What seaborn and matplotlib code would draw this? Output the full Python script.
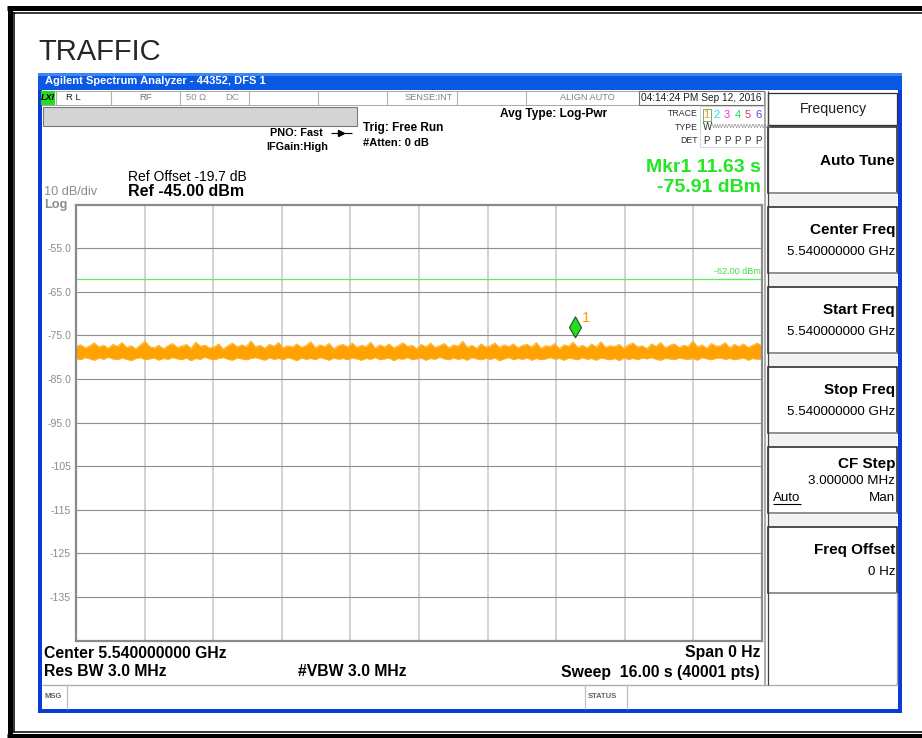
import numpy as np
import matplotlib.pyplot as plt
import seaborn as sns
from matplotlib.patches import Rectangle
from matplotlib.path import Path

sns.set_style("white")
plt.rcParams['font.family'] = ['Liberation Sans', 'DejaVu Sans']

########################## Data ##########################

ref_level = -45.0
bottom_level = -145.0
sweep_s = 16.0
display_line = -62.0
mkr_time = 11.63
mkr_level = -75.91

y_ticks = [-55, -65, -75, -85, -95, -105, -115, -125, -135]
y_labels = ['-55.0', '-65.0', '-75.0', '-85.0', '-95.0', '-105', '-115', '-125', '-135']

# top edge of the noise band (dBm)
trace_upper = [
    -77.6, -77.2, -77.9, -77.4, -76.8, -77.7, -77.3, -78.0, -77.1, -77.5,
    -76.7, -77.8, -77.4, -78.1, -77.2, -76.4, -77.6, -77.9, -77.3, -78.1,
    -77.4, -76.9, -77.8, -77.5, -77.1, -78.0, -76.6, -77.5, -77.3, -77.9,
    -77.7, -77.0, -78.2, -77.4, -76.8, -77.7, -77.2, -77.6, -76.3, -77.7,
    -77.3, -78.0, -77.1, -77.5, -76.7, -77.9, -77.4, -77.7, -77.0, -77.8,
    -77.3, -76.5, -77.9, -77.2, -77.6, -76.9, -78.1, -77.4, -77.1, -77.7,
    -76.8, -77.8, -77.3, -77.6, -76.6, -78.0, -77.2, -77.7, -77.0, -77.9,
    -77.4, -76.7, -77.6, -77.3, -78.1, -77.1, -77.7, -76.8, -77.8, -77.4,
    -76.9, -77.9, -77.2, -77.5, -76.4, -77.8, -77.3, -78.0, -77.0, -77.7,
    -77.4, -76.8, -77.8, -77.2, -77.6, -77.0, -77.9, -77.3, -77.1, -77.7,
    -76.7, -78.0, -77.4, -77.6, -76.9, -78.1, -77.2, -77.5, -76.6, -77.8,
    -77.3, -77.9, -77.0, -77.7, -76.5, -77.8, -77.4, -77.6, -77.1, -78.0,
    -77.2, -76.8, -77.7, -77.4, -78.1, -77.0, -77.5, -76.7, -77.9, -77.3,
    -77.0, -77.8, -77.3, -77.6, -76.3, -77.7, -77.2, -78.0, -76.9, -77.5,
    -77.4, -76.7, -77.9, -77.1, -77.6, -77.0, -77.8, -77.3, -76.8, -77.5,
]

# bottom edge of the noise band (dBm)
trace_lower = [
    -80.3, -80.6, -80.1, -80.4, -80.7, -80.2, -80.5, -80.0, -80.4, -80.6,
    -80.2, -80.5, -80.8, -80.3, -80.1, -80.6, -80.4, -80.2, -80.7, -80.3,
    -80.5, -80.1, -80.4, -80.6, -80.2, -80.8, -80.3, -80.5, -80.0, -80.4,
    -80.6, -80.3, -80.1, -80.5, -80.7, -80.2, -80.4, -80.6, -80.3, -80.1,
    -80.4, -80.7, -80.2, -80.5, -80.3, -80.6, -80.1, -80.4, -80.8, -80.2,
    -80.5, -80.3, -80.6, -80.1, -80.4, -80.7, -80.2, -80.5, -80.3, -80.6,
    -80.2, -80.4, -80.7, -80.3, -80.5, -80.1, -80.6, -80.4, -80.2, -80.8,
    -80.3, -80.5, -80.1, -80.6, -80.4, -80.2, -80.7, -80.3, -80.5, -80.0,
    -80.4, -80.6, -80.2, -80.5, -80.3, -80.7, -80.1, -80.4, -80.6, -80.3,
    -80.5, -80.2, -80.8, -80.4, -80.1, -80.6, -80.3, -80.5, -80.2, -80.7,
    -80.3, -80.6, -80.4, -80.1, -80.5, -80.3, -80.7, -80.2, -80.4, -80.6,
    -80.1, -80.5, -80.3, -80.7, -80.2, -80.4, -80.6, -80.3, -80.8, -80.2,
    -80.5, -80.3, -80.6, -80.2, -80.4, -80.1, -80.5, -80.7, -80.3, -80.4,
    -80.6, -80.2, -80.4, -80.5, -80.3, -80.7, -80.1, -80.4, -80.6, -80.3,
    -80.2, -80.5, -80.3, -80.6, -80.4, -80.2, -80.7, -80.3, -80.5, -80.4,
]

trace_colors = ['#ffa000', '#22d8f0', '#f030f0', '#20d860', '#f03060', '#7040f0']

menu_title = 'Frequency'
menu_keys = [
    ('Auto Tune', None),
    ('Center Freq', '5.540000000 GHz'),
    ('Start Freq', '5.540000000 GHz'),
    ('Stop Freq', '5.540000000 GHz'),
    ('CF Step', '3.000000 MHz'),
    ('Freq Offset', '0 Hz'),
]

########################## Helpers ##########################

W, H = 922, 738
fig = plt.figure(figsize=(W / 100, H / 100), dpi=100)
ui = fig.add_axes([0, 0, 1, 1], zorder=0)
ui.set_xlim(0, W)
ui.set_ylim(H, 0)
ui.axis('off')


def rect(x0, y0, x1, y1, fc='none', ec='none', lw=1.0, z=1):
    ui.add_patch(Rectangle((x0, y0), x1 - x0, y1 - y0, facecolor=fc,
                           edgecolor=ec, linewidth=lw, zorder=z))


def hline(y, x0, x1, color='black', lw=1.0, z=2):
    ui.plot([x0, x1], [y, y], color=color, lw=lw, solid_capstyle='butt', zorder=z)


def vline(x, y0, y1, color='black', lw=1.0, z=2):
    ui.plot([x, x], [y0, y1], color=color, lw=lw, solid_capstyle='butt', zorder=z)


def label(x, y, s, size=8, ha='left', color='black', weight='normal', **kw):
    ui.text(x, y, s, fontsize=size, ha=ha, va='center', color=color,
            fontweight=weight, zorder=5, **kw)


################### Outer page frame + title ##################

hline(7.5, 7, W, lw=3.6)
hline(12.8, 13, W, lw=1.1)
vline(9.5, 5.7, H, lw=3.6)
vline(14.2, 12.3, 732, lw=1.1)
hline(731.8, 13, W, lw=1.1)
hline(736.3, 7, W, lw=3.6)

ui.text(38, 60, 'TRAFFIC', fontsize=21, va='baseline', ha='left')

################### Window chrome ##################

rect(38, 73, 902, 90, fc='#0a58e4')
rect(38, 73, 902, 76, fc='#3a86f2')
label(45, 81.5, 'Agilent Spectrum Analyzer - 44352, DFS 1', size=8,
      color='white', weight='bold')
rect(42, 90, 898, 709, fc='white', z=0.5)
rect(38, 90, 42, 713, fc='#0a3ad8')
rect(898, 90, 902, 713, fc='#0a3ad8')
rect(38, 709, 902, 713, fc='#0a3ad8')

# status row
rect(42, 91, 764, 105, fc='white', ec='#a8a8a8', lw=0.7)
for xd in [56, 111, 180, 249, 318, 387, 457, 526]:
    vline(xd, 91, 105, color='#b0b0b0', lw=0.8)
rect(639, 91, 764, 105, ec='#707070', lw=0.8)
rect(41, 91, 55, 104.5, fc='#22dd22', z=3)
label(48, 98, 'LXI', size=6.5, ha='center', weight='bold', style='italic')
label(66, 98, 'R L', size=6.8, color='#202020')
label(146, 98, 'RF', size=6.8, ha='center', color='#707070')
label(186, 98, '50 Ω', size=6.8, color='#909090')
label(225, 98, 'DC', size=6.8, color='#909090')
label(453, 98, 'SENSE:INT', size=6.6, ha='right', color='#808080')
label(587, 98, 'ALIGN AUTO', size=6.6, ha='center', color='#808080')
label(701, 98, '04:14:24 PM Sep 12, 2016', size=7.3, ha='center', color='#202020')

rect(43, 107, 357, 126, fc='#d6d3d6', ec='#7a7a7a', lw=0.8)

label(323, 133, 'PNO: Fast', size=7.8, ha='right', weight='bold')
hline(133, 331, 352, lw=0.8)
ui.plot([341], [133], marker='>', ms=4, color='black', zorder=5)
label(328, 146.5, 'IFGain:High', size=7.8, ha='right', weight='bold')
label(363, 128, 'Trig: Free Run', size=8.6, weight='bold')
label(363, 143.5, '#Atten: 0 dB', size=8.0, weight='bold')
label(500, 114, 'Avg Type: Log-Pwr', size=8.6, weight='bold')

# trace / type / det block
rect(700, 106, 764, 147, fc='white', ec='#d0d0d0', lw=0.6)
label(698, 113, 'TRACE', size=6.3, ha='right', color='#303030')
label(698, 127, 'TYPE', size=6.3, ha='right', color='#303030')
label(698, 140.5, 'DET', size=6.3, ha='right', color='#303030')
num_x = [706.5, 717, 727, 737.5, 747.5, 758]
rect(702.5, 108.5, 711, 121, ec='#70b070', lw=0.7)
for i, xn in enumerate(num_x):
    label(xn, 114.5, str(i + 1), size=8, ha='center', color=trace_colors[i])
    label(xn, 140.5, 'P', size=7, ha='center', color='#303030')
label(703, 127, 'W', size=7, color='#303030')
label(712, 127, 'WWWWWWWWWW', size=4.6, color='#808080')

# reference / marker readouts
label(128, 177, 'Ref Offset -19.7 dB', size=10)
label(128, 192, 'Ref -45.00 dBm', size=11.5, weight='bold')
label(44, 192, '10 dB/div', size=9.2, color='#8c8c8c')
label(44, 205, 'Log', size=9.2, color='#8c8c8c', weight='bold')
label(761, 167.5, 'Mkr1 11.63 s', size=14, ha='right', color='#22e622', weight='bold')
label(761, 187, '-75.91 dBm', size=14, ha='right', color='#22e622', weight='bold')

# bottom readouts
label(44, 653, 'Center 5.540000000 GHz', size=11.3, weight='bold')
label(44, 672, 'Res BW 3.0 MHz', size=11.3, weight='bold')
label(298, 672, '#VBW 3.0 MHz', size=11.3, weight='bold')
label(760, 653, 'Span 0 Hz', size=11.3, ha='right', weight='bold')
label(760, 672, 'Sweep  16.00 s (40001 pts)', size=11.3, ha='right', weight='bold')

# message bar
hline(685, 42, 898, color='#b0b0b0', lw=1.0)
vline(67, 685, 709, color='#c0c0c0', lw=0.9)
vline(585, 685, 709, color='#c0c0c0', lw=0.9)
vline(627, 685, 709, color='#c0c0c0', lw=0.9)
label(44, 697, 'MSG', size=5.5, color='#606060', weight='bold')
label(588, 697, 'STATUS', size=5.5, color='#606060', weight='bold')

################### Soft-key menu ##################

vline(765, 91, 685, color='#a0a0a0', lw=1.2)
vline(767.5, 91, 685, color='#404040', lw=0.9)
rect(768, 125, 897, 527, fc='#f3f3f3', z=0.8)
vline(896.6, 593, 685, color='#a0a0a0', lw=1.0)

rect(768, 93, 897, 125, fc='white', ec='#303030', lw=0.9)
label(833, 109, menu_title, size=10.2, ha='center', color='#202020')

key_tops = [127, 207, 287, 367, 447, 527]
for (name, value), top in zip(menu_keys, key_tops):
    bot = top + 66
    rect(768, top, 897, bot, fc='white', ec='#202020', lw=1.1, z=1.5)
    hline(bot, 768, 897, color='#a0a0a0', lw=1.2, z=1.6)
    if value is None:
        label(895, top + 34, name, size=11, ha='right', weight='bold')
    elif name == 'CF Step':
        label(895, top + 17, name, size=11, ha='right', weight='bold')
        label(895, top + 34, value, size=9.6, ha='right')
        label(773, top + 51, 'Auto', size=9.6)
        hline(top + 57, 773, 801, lw=0.8, z=5)
        label(895, top + 51, 'Man', size=9.6, ha='right')
    else:
        label(895, top + 23, name, size=11, ha='right', weight='bold')
        label(895, top + 45, value, size=9.6, ha='right')

################### Trace graticule ##################

left_px, right_px, top_px, bot_px = 76, 762, 204.5, 640.5
ax = fig.add_axes([left_px / W, (H - bot_px) / H, (right_px - left_px) / W,
                   (bot_px - top_px) / H], zorder=3)
ax.set_facecolor('white')
ax.set_xlim(0, sweep_s)
ax.set_ylim(bottom_level, ref_level)

ax.set_xticks(np.linspace(0, sweep_s, 11))
ax.set_xticklabels([])
ax.set_yticks(y_ticks)
ax.set_yticklabels(y_labels)
ax.tick_params(axis='both', length=0)
ax.tick_params(axis='y', pad=3.5, labelsize=7.6, labelcolor='#8c8c8c')
ax.xaxis.grid(True, color='#c6c6c6', lw=1.1)
ax.yaxis.grid(True, color='#8e8e8e', lw=0.8)
ax.set_axisbelow(True)
for sp in ax.spines.values():
    sp.set_color('#8a8a8a')
    sp.set_linewidth(1.6)

# display line
ax.axhline(display_line, color='#5aee5a', lw=0.9)
ax.text(sweep_s * 0.998, display_line + 0.7, '-62.00 dBm', fontsize=6.5,
        color='#44dd44', ha='right', va='bottom')

# noise trace
t = np.linspace(0, sweep_s, len(trace_upper))
ax.fill_between(t, trace_lower, trace_upper, color='#ffa200', lw=0)
sns.lineplot(x=t, y=trace_upper, ax=ax, color='#ffb030', lw=0.8, estimator=None)
sns.lineplot(x=t, y=trace_lower, ax=ax, color='#ffb030', lw=0.8, estimator=None)

# marker 1
diamond = Path([(0, 0.15), (-0.53, 1.05), (0, 2.0), (0.53, 1.05), (0, 0.15)],
               [Path.MOVETO, Path.LINETO, Path.LINETO, Path.LINETO, Path.CLOSEPOLY])
ax.plot([mkr_time], [mkr_level], marker=diamond, ms=32.6, mfc='#22dd22',
        mec='#205020', mew=0.8, ls='none', zorder=6, clip_on=False)
ax.annotate('1', (mkr_time, mkr_level), xytext=(5, 15), textcoords='offset points',
            fontsize=11, color='#ffa000', ha='left', va='center')

fig.savefig('out.png', dpi=100)
